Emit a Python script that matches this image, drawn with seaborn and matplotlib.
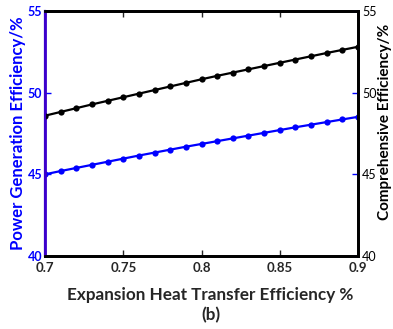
import numpy as np
import pandas as pd
import matplotlib
matplotlib.use("Agg")
import matplotlib.pyplot as plt
import seaborn as sns

x_eff = [0.70, 0.71, 0.72, 0.73, 0.74, 0.75, 0.76, 0.77, 0.78, 0.79, 0.80,
         0.81, 0.82, 0.83, 0.84, 0.85, 0.86, 0.87, 0.88, 0.89, 0.90]
power_gen = [45.00, 45.20, 45.39, 45.58, 45.77, 45.96, 46.15, 46.33, 46.51, 46.69, 46.86,
             47.03, 47.20, 47.37, 47.54, 47.71, 47.88, 48.04, 48.20, 48.36, 48.52]
comprehensive = [48.59, 48.82, 49.05, 49.28, 49.50, 49.72, 49.94, 50.16, 50.38, 50.60, 50.82,
                 51.03, 51.23, 51.43, 51.63, 51.83, 52.03, 52.23, 52.43, 52.62, 52.81]
x_ticks = [0.7, 0.75, 0.8, 0.85, 0.9]
x_ticklabels = ["0.7", "0.75", "0.8", "0.85", "0.9"]
y_ticks = [40, 45, 50, 55]

sns.set_style("white")
plt.rcParams['font.family'] = ['Lato', 'DejaVu Sans']
plt.rcParams['font.weight'] = 'bold'

df = pd.DataFrame({"x": x_eff, "p": power_gen, "c": comprehensive})

fig = plt.figure(figsize=(3.93, 3.29), dpi=100)
ax = fig.add_axes([0.1145, 0.222, 0.7965, 0.7445])
ax2 = ax.twinx()

sns.lineplot(data=df, x="x", y="p", ax=ax, color="#0000ff", marker="o",
             markersize=4.5, linewidth=1.6, markeredgewidth=0)
sns.lineplot(data=df, x="x", y="c", ax=ax2, color="black", marker="o",
             markersize=4.5, linewidth=1.6, markeredgewidth=0)

for a in (ax, ax2):
    a.set_xlim(0.7, 0.9)
    a.set_ylim(40, 55)
    a.set_yticks(y_ticks)

ax.set_xticks(x_ticks)
ax.set_xticklabels(x_ticklabels, fontsize=9.5, fontweight='bold')
ax.set_yticklabels([str(t) for t in y_ticks], fontsize=9, color="#0000ff", fontweight='bold')
ax2.set_yticklabels([str(t) for t in y_ticks], fontsize=9, color="black", fontweight='normal')

ax.tick_params(axis='x', direction='in', length=4, width=1, pad=4)
ax.tick_params(axis='y', direction='in', length=4, width=1, color="#0000ff", pad=2)
ax2.tick_params(axis='y', direction='in', length=4, width=1, color="#0000ff", pad=3)
ax.xaxis.set_ticks_position('both')
ax.tick_params(axis='x', top=True)

for a in (ax, ax2):
    for s in a.spines.values():
        s.set_linewidth(2)
        s.set_color("black")
        s.set_visible(True)
ax2.spines['left'].set_color("#3c00cc")
ax.spines['left'].set_color("#3c00cc")
ax2.spines['left'].set_linewidth(1.6)

ax.set_xlabel("Expansion Heat Transfer Efficiency %", fontsize=12.3, fontweight='bold')
ax.xaxis.set_label_coords((210.5 - 45) / 313, -0.125)
ax.set_ylabel("Power Generation Efficiency/%", fontsize=12, fontweight='bold', color="#0000ff", labelpad=1)
ax2.set_ylabel("")
fig.text(385 / 393, 1 - 122 / 329, "Comprehensive Efficiency/%", fontsize=11,
         fontweight='bold', color="black", rotation=90, ha='center', va='center')

fig.text(210.5 / 393, 1 - 323 / 329, "(b)", fontsize=12.3, fontweight='bold', ha='center', va='bottom')

fig.savefig("out.png", dpi=100)
